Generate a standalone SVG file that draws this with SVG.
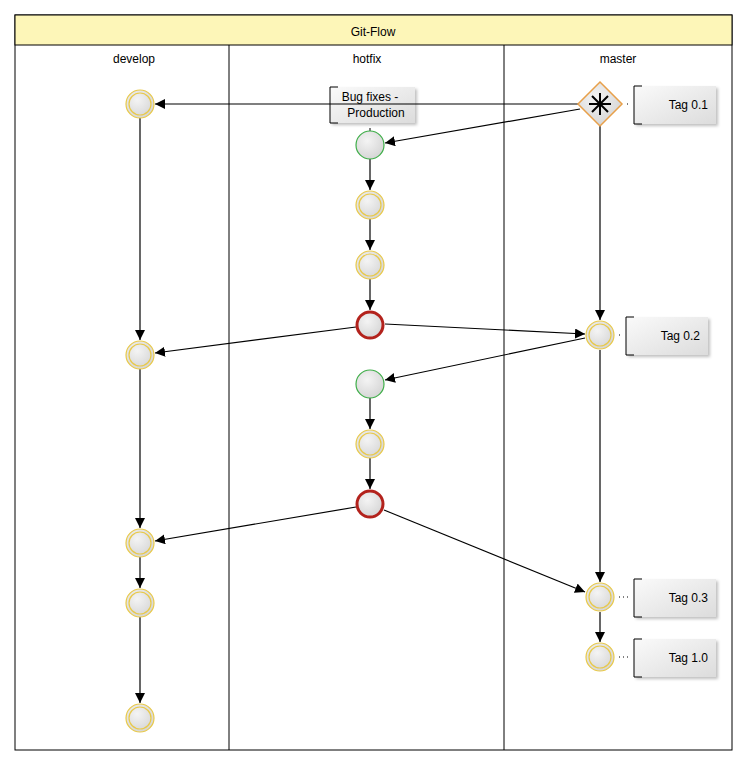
<svg xmlns="http://www.w3.org/2000/svg" width="746" height="765" viewBox="0 0 746 765">
<style>
text{font-family:"Liberation Sans",Arial,sans-serif;font-size:12px;fill:#000}
.ev{fill:url(#g)}
.y{stroke:#e8c94a;stroke-width:1.2}
.gr{stroke:#3fae49;stroke-width:1.2}
.rd{stroke:#b3221c;stroke-width:3}
.e{stroke:#000;stroke-width:1.2;fill:none;marker-end:url(#a)}
.ann{fill:url(#ag);filter:url(#sh)}
.br{stroke:#000;fill:none}
.dt{stroke:#000;stroke-dasharray:1 3;fill:none}
</style>
<defs>
<radialGradient id="g" cx="0.4" cy="0.35" r="0.7"><stop offset="0" stop-color="#f4f4f4"/><stop offset="1" stop-color="#d4d4d4"/></radialGradient>
<linearGradient id="ag" x1="0" y1="0" x2="1" y2="1"><stop offset="0" stop-color="#fafafa"/><stop offset="1" stop-color="#dcdcdc"/></linearGradient>
<filter id="sh" x="-10%" y="-10%" width="130%" height="140%"><feDropShadow dx="2" dy="2" stdDeviation="1.5" flood-color="#000" flood-opacity="0.25"/></filter>
<marker id="a" viewBox="0 0 10 10" refX="10" refY="5" markerWidth="10" markerHeight="10" markerUnits="userSpaceOnUse" orient="auto"><path d="M0,0L10,5L0,10z" fill="#000"/></marker>
</defs>
<g id="pool">
<rect x="15" y="15" width="717" height="735" fill="#fff" stroke="#000"/>
<rect x="15" y="15" width="717" height="30" fill="#fdf6b8" stroke="#000"/>
<text x="373" y="36" text-anchor="middle" font-size="13">Git-Flow</text>
<line x1="229" y1="45" x2="229" y2="750" stroke="#000"/>
<line x1="504" y1="45" x2="504" y2="750" stroke="#000"/>
<text x="134" y="63" text-anchor="middle">develop</text>
<text x="367" y="63" text-anchor="middle">hotfix</text>
<text x="618" y="63" text-anchor="middle">master</text>
</g>
<g id="a0"><rect class="ann" x="330" y="87" width="85" height="36"/><path class="br" d="M338,87H330V123H338"/><text x="370" y="101" text-anchor="middle">Bug fixes -</text><text x="376" y="117" text-anchor="middle">Production</text></g>
<g id="connectors">
<path class="e" d="M578,104L155,104"/>
<path class="e" d="M580,109L385,143"/>
<path class="e" d="M370,159L370,190"/>
<path class="e" d="M370,219L370,250"/>
<path class="e" d="M370,279L370,310"/>
<path class="e" d="M385,324L585,334"/>
<path class="e" d="M600,126L600,320"/>
<path class="e" d="M356,327L155,353"/>
<path class="e" d="M585,338L385,380"/>
<path class="e" d="M370,398L370,429"/>
<path class="e" d="M370,458L370,489"/>
<path class="e" d="M356,507L155,541"/>
<path class="e" d="M384,510L585,592"/>
<path class="e" d="M600,350L600,582"/>
<path class="e" d="M600,612L600,642"/>
<path class="e" d="M140,118L140,340"/>
<path class="e" d="M140,369L140,528"/>
<path class="e" d="M140,557L140,588"/>
<path class="e" d="M140,617L140,703"/>
<path class="dt" d="M627,104L630,104M619,335L622,335M619,597L630,597M619,657L630,657"/>
<line x1="370" y1="128" x2="370" y2="131" stroke="#000"/>
</g>
<g id="develop-nodes">
<g id="d1"><circle class="ev y" cx="140" cy="104" r="14"/><circle cx="140" cy="104" r="11" fill="none" class="y"/></g>
<g id="d2"><circle class="ev y" cx="140" cy="355" r="14"/><circle cx="140" cy="355" r="11" fill="none" class="y"/></g>
<g id="d3"><circle class="ev y" cx="140" cy="543" r="14"/><circle cx="140" cy="543" r="11" fill="none" class="y"/></g>
<g id="d4"><circle class="ev y" cx="140" cy="603" r="14"/><circle cx="140" cy="603" r="11" fill="none" class="y"/></g>
<g id="d5"><circle class="ev y" cx="140" cy="718" r="14"/><circle cx="140" cy="718" r="11" fill="none" class="y"/></g>
</g>
<g id="hotfix-nodes">
<g id="h1"><circle class="ev gr" cx="370" cy="145" r="14"/></g>
<g id="h2"><circle class="ev y" cx="370" cy="205" r="14"/><circle cx="370" cy="205" r="11" fill="none" class="y"/></g>
<g id="h3"><circle class="ev y" cx="370" cy="265" r="14"/><circle cx="370" cy="265" r="11" fill="none" class="y"/></g>
<g id="h4"><circle class="ev rd" cx="370" cy="325" r="13"/></g>
<g id="h5"><circle class="ev gr" cx="370" cy="384" r="14"/></g>
<g id="h6"><circle class="ev y" cx="370" cy="444" r="14"/><circle cx="370" cy="444" r="11" fill="none" class="y"/></g>
<g id="h7"><circle class="ev rd" cx="370" cy="504" r="13"/></g>
</g>
<g id="master-nodes">
<g id="gw"><path d="M600,82L622,104L600,126L578,104z" fill="url(#g)" stroke="#e8a04a" stroke-width="1.5"/>
<path d="M600,93V115M589,104H611M592,96L608,112M608,96L592,112" stroke="#000" stroke-width="2"/></g>
<g id="m2"><circle class="ev y" cx="600" cy="335" r="14"/><circle cx="600" cy="335" r="11" fill="none" class="y"/></g>
<g id="m3"><circle class="ev y" cx="600" cy="597" r="14"/><circle cx="600" cy="597" r="11" fill="none" class="y"/></g>
<g id="m4"><circle class="ev y" cx="600" cy="657" r="14"/><circle cx="600" cy="657" r="11" fill="none" class="y"/></g>
</g>
<g id="annotations">
<g id="a1"><rect class="ann" x="634" y="86" width="82" height="38"/><path class="br" d="M642,86H634V124H642"/><text x="708" y="109" text-anchor="end">Tag 0.1</text></g>
<g id="a2"><rect class="ann" x="626" y="317" width="82" height="38"/><path class="br" d="M634,317H626V355H634"/><text x="700" y="340" text-anchor="end">Tag 0.2</text></g>
<g id="a3"><rect class="ann" x="634" y="579" width="82" height="38"/><path class="br" d="M642,579H634V617H642"/><text x="708" y="602" text-anchor="end">Tag 0.3</text></g>
<g id="a4"><rect class="ann" x="634" y="639" width="82" height="38"/><path class="br" d="M642,639H634V677H642"/><text x="708" y="662" text-anchor="end">Tag 1.0</text></g>
</g>
</svg>
